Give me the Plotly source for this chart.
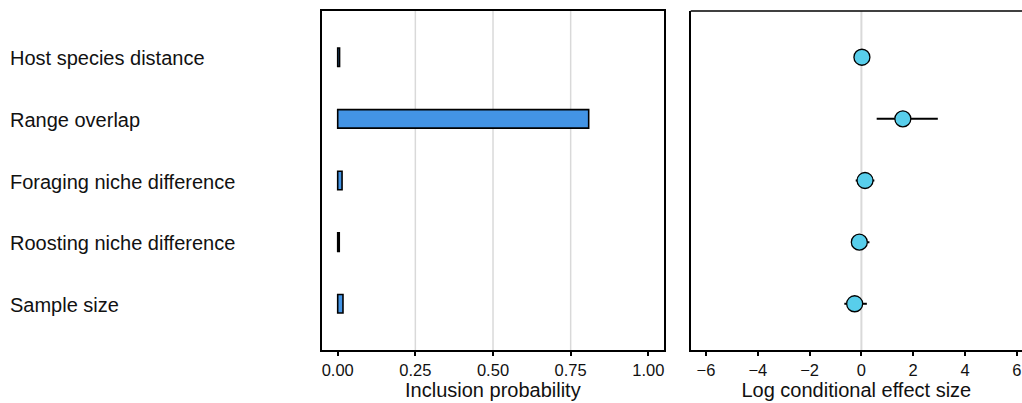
import plotly.graph_objects as go

# ---- data ----
predictors = ["Host species distance", "Range overlap", "Foraging niche difference",
              "Roosting niche difference", "Sample size"]
inclusion_prob = [0.006, 0.808, 0.014, 0.005, 0.017]
effect_est = [0.02, 1.6, 0.14, -0.08, -0.26]
effect_low = [-0.28, 0.59, -0.22, -0.35, -0.66]
effect_high = [0.25, 2.95, 0.50, 0.31, 0.21]
prob_ticks = [0, 0.25, 0.5, 0.75, 1.0]
prob_grid = [0.25, 0.5, 0.75]
effect_ticks = [-6, -4, -2, 0, 2, 4, 6]
effect_ref = [0]

W, H = 1022, 403
TXT = "#111111"
FONT = "Liberation Sans, Arial, sans-serif"
LAB = 20
TICK = 16.5

fig = go.Figure()

fig.add_trace(go.Bar(
    y=predictors, x=inclusion_prob, orientation="h", width=0.3,
    marker=dict(color="#4394E5", line=dict(color="black", width=1.6)),
    xaxis="x", yaxis="y", showlegend=False,
))

fig.add_trace(go.Scatter(
    y=predictors, x=effect_est, mode="markers",
    marker=dict(size=16, color="#58CEEB", line=dict(color="black", width=1.3)),
    error_x=dict(type="data", symmetric=False,
                 array=[h - e for h, e in zip(effect_high, effect_est)],
                 arrayminus=[e - l for e, l in zip(effect_est, effect_low)],
                 color="black", thickness=2, width=0),
    xaxis="x2", yaxis="y2", showlegend=False,
))

shapes = []
for g in prob_grid:
    shapes.append(dict(type="line", xref="x", yref="y domain", x0=g, x1=g, y0=0, y1=1,
                       line=dict(color="#d9d9d9", width=1.5), layer="below"))
for r in effect_ref:
    shapes.append(dict(type="line", xref="x2", yref="y2 domain", x0=r, x1=r, y0=0, y1=1,
                       line=dict(color="#d9d9d9", width=2), layer="below"))
# top border of right panel (right side is clipped in the reference)
shapes.append(dict(type="line", xref="x2 domain", yref="y2 domain", x0=0, x1=1, y0=1, y1=1,
                   line=dict(color="black", width=1.6)))

annotations = [dict(text=p, x=8 / W, xref="paper", xanchor="left", y=p, yref="y",
                    yshift=-1, showarrow=False, font=dict(size=LAB, color=TXT, family=FONT))
               for p in predictors]

ycat = dict(type="category", categoryorder="array", categoryarray=predictors,
            range=[4.75, -0.75], showticklabels=False, ticks="", showgrid=False,
            zeroline=False)

fig.update_layout(
    width=W, height=H,
    margin=dict(l=0, r=0, t=11, b=53),
    paper_bgcolor="white", plot_bgcolor="white",
    font=dict(family=FONT, color=TXT),
    xaxis=dict(domain=[321.7 / W, 664 / W], range=[-0.0515, 1.0505],
               tickvals=prob_ticks, ticktext=[f"{v:.2f}" for v in prob_ticks],
               ticks="outside", ticklen=4, tickwidth=1.5, tickcolor="black",
               showline=True, linecolor="black", linewidth=1.6, mirror=True,
               showgrid=False, zeroline=False,
               tickfont=dict(size=TICK, color=TXT),
               title=dict(text="Inclusion probability", font=dict(size=LAB, color=TXT),
                          standoff=2)),
    yaxis=dict(**ycat, showline=True, linecolor="black", linewidth=1.6, mirror=True),
    xaxis2=dict(domain=[690.7 / W, 1.0], range=[-6.59, 6.2], tickvals=effect_ticks,
                ticks="outside", ticklen=4, tickwidth=1.5, tickcolor="black",
                showline=True, linecolor="black", linewidth=1.6,
                showgrid=False, zeroline=False, anchor="y2",
                tickfont=dict(size=TICK, color=TXT),
                title=dict(text="Log conditional effect size", font=dict(size=LAB, color=TXT),
                           standoff=2)),
    yaxis2=dict(**ycat, anchor="x2", showline=True, linecolor="black", linewidth=1.6),
    shapes=shapes,
    annotations=annotations,
)

fig.write_html("out.html", config={"displayModeBar": False},
               post_script="document.body.style.margin='0';")
